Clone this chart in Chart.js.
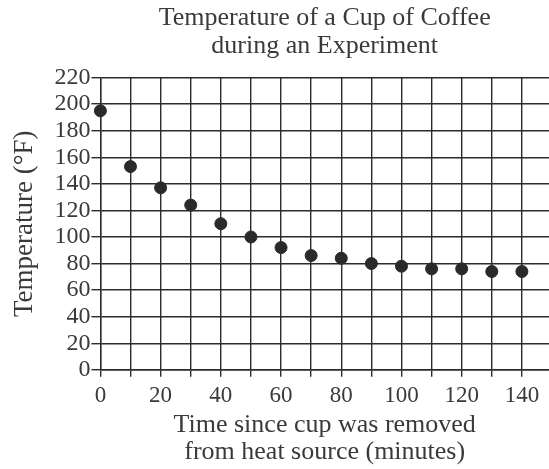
<!DOCTYPE html>
<html>
<head>
<meta charset="utf-8">
<script src="https://cdn.jsdelivr.net/npm/chart.js@4"></script>
<style>
  html, body { margin: 0; padding: 0; background: #fff; }
  #wrap { width: 549px; height: 469px; }
</style>
</head>
<body>
<div id="wrap"><canvas id="coffeeChart" width="549" height="469"></canvas></div>
<script>
const minutes = [0, 10, 20, 30, 40, 50, 60, 70, 80, 90, 100, 110, 120, 130, 140];
const temperatures = [195, 153, 137, 124, 110, 100, 92, 86, 84, 80, 78, 76, 76, 74, 74];
const xTicks = [0, 10, 20, 30, 40, 50, 60, 70, 80, 90, 100, 110, 120, 130, 140];
const titleLines = ["Temperature of a Cup of Coffee", "during an Experiment"];
const xTitleLines = ["Time since cup was removed", "from heat source (minutes)"];
const yTitle = "Temperature (°F)";

const serif = "'Liberation Serif', 'DejaVu Serif', serif";
const ink = "#3a3a3a";
const gridInk = "#2b2b2b";

document.addEventListener("DOMContentLoaded", function () {
  const ctx = document.getElementById("coffeeChart").getContext("2d");

  new Chart(ctx, {
    type: 'scatter',
    data: {
      datasets: [{
        data: minutes.map((m, i) => ({ x: m, y: temperatures[i] })),
        backgroundColor: '#2a2a2a',
        borderColor: '#2a2a2a',
        pointRadius: 6,
        pointHoverRadius: 6,
        clip: false
      }]
    },
    options: {
      responsive: false,
      animation: false,
      layout: { autoPadding: false, padding: { left: 9, right: 0, top: 5, bottom: 3 } },
      plugins: {
        legend: { display: false },
        tooltip: { enabled: false },
        title: {
          display: true,
          text: titleLines,
          fullSize: false,
          color: ink,
          font: { family: serif, size: 26, weight: 'normal', lineHeight: 1.05 },
          padding: { top: 0, bottom: 18 }
        }
      },
      scales: {
        x: {
          type: 'linear',
          min: 0,
          max: 149,
          afterBuildTicks: (scale) => {
            scale.ticks = xTicks.map(v => ({ value: v }));
          },
          ticks: {
            color: ink,
            font: { family: serif, size: 23 },
            maxRotation: 0,
            autoSkip: false,
            padding: 5,
            callback: (v) => (v % 20 === 0 ? v : '')
          },
          grid: { color: gridInk, lineWidth: 1.4, tickLength: 7, drawTicks: true },
          border: { color: gridInk, width: 1.4 },
          title: {
            display: true,
            text: xTitleLines,
            color: ink,
            font: { family: serif, size: 26, lineHeight: 1.05 },
            padding: { top: -3, bottom: 0 }
          }
        },
        y: {
          type: 'linear',
          min: 0,
          max: 220,
          ticks: {
            stepSize: 20,
            autoSkip: false,
            color: ink,
            font: { family: serif, size: 24 },
            padding: 1
          },
          grid: { color: gridInk, lineWidth: 1.4, tickLength: 9 },
          border: { color: gridInk, width: 1.4 },
          title: {
            display: true,
            text: yTitle,
            color: ink,
            font: { family: serif, size: 27 },
            padding: { top: 0, bottom: 12 }
          }
        }
      }
    }
  });
});
</script>
</body>
</html>
